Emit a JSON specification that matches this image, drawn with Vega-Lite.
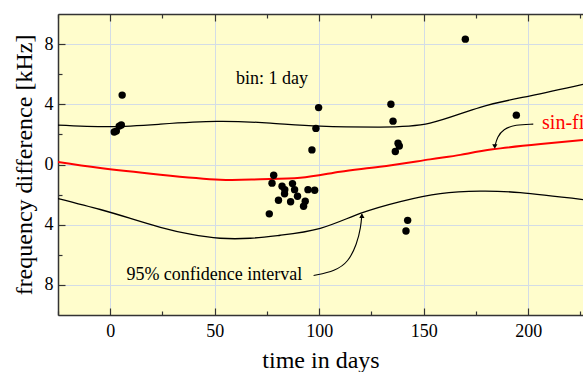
{
  "$schema": "https://vega.github.io/schema/vega-lite/v6.json",
  "width": 525,
  "height": 301,
  "autosize": {"type": "none"},
  "padding": {"left": 58, "top": 14, "right": 0, "bottom": 57},
  "background": "white",
  "config": {
    "view": {"fill": "#FFFDCC", "stroke": null},
    "font": "Liberation Serif",
    "axis": {
      "labelFont": "Liberation Serif",
      "labelFontSize": 18,
      "labelColor": "black",
      "titleFont": "Liberation Serif",
      "titleFontSize": 24,
      "titleFontWeight": "normal",
      "titleColor": "black",
      "domainColor": "#333333",
      "domainWidth": 1.5,
      "tickColor": "#333333",
      "tickWidth": 1.2,
      "gridColor": "#D3DCE6",
      "gridWidth": 1
    }
  },
  "datasets": {
    "points": [
      {"t": 1.9, "f": 2.16}, {"t": 2.9, "f": 2.22}, {"t": 4.3, "f": 2.55}, {"t": 5.3, "f": 2.62}, {"t": 5.7, "f": 4.61},
      {"t": 78.2, "f": -0.71}, {"t": 77.4, "f": -1.24}, {"t": 82.2, "f": -1.45}, {"t": 83.5, "f": -1.67}, {"t": 87.2, "f": -1.27},
      {"t": 88.2, "f": -1.67}, {"t": 83.4, "f": -1.95}, {"t": 89.6, "f": -2.11}, {"t": 80.5, "f": -2.37}, {"t": 86.3, "f": -2.48},
      {"t": 93.3, "f": -2.44}, {"t": 92.5, "f": -2.77}, {"t": 94.6, "f": -1.67}, {"t": 97.8, "f": -1.71}, {"t": 76.1, "f": -3.28},
      {"t": 99.7, "f": 3.78}, {"t": 98.4, "f": 2.40}, {"t": 96.5, "f": 0.97},
      {"t": 134.3, "f": 4.0}, {"t": 135.3, "f": 2.88}, {"t": 137.7, "f": 1.41}, {"t": 138.3, "f": 1.23}, {"t": 136.4, "f": 0.86},
      {"t": 142.3, "f": -3.71}, {"t": 141.5, "f": -4.42},
      {"t": 169.9, "f": 8.33}, {"t": 194.3, "f": 3.28}
    ],
    "curves": [
      {"s": "upper", "t": -25, "f": 2.62}, {"s": "upper", "t": 0, "f": 2.52}, {"s": "upper", "t": 24, "f": 2.68},
      {"s": "upper", "t": 51, "f": 2.86}, {"s": "upper", "t": 76.6, "f": 2.75}, {"s": "upper", "t": 100.5, "f": 2.55},
      {"s": "upper", "t": 129, "f": 2.49}, {"s": "upper", "t": 153, "f": 2.75}, {"s": "upper", "t": 177, "f": 3.8},
      {"s": "upper", "t": 201, "f": 4.56}, {"s": "upper", "t": 226.2, "f": 5.32},
      {"s": "lower", "t": -25, "f": -2.26}, {"s": "lower", "t": -4.8, "f": -2.99}, {"s": "lower", "t": 9.6, "f": -3.58},
      {"s": "lower", "t": 24, "f": -4.17}, {"s": "lower", "t": 38.3, "f": -4.63}, {"s": "lower", "t": 52.6, "f": -4.9},
      {"s": "lower", "t": 67, "f": -4.9}, {"s": "lower", "t": 81.3, "f": -4.7}, {"s": "lower", "t": 100.5, "f": -4.24},
      {"s": "lower", "t": 119.6, "f": -3.25}, {"s": "lower", "t": 138.8, "f": -2.46}, {"s": "lower", "t": 157.9, "f": -1.93},
      {"s": "lower", "t": 177, "f": -1.77}, {"s": "lower", "t": 196.2, "f": -1.87}, {"s": "lower", "t": 226.2, "f": -2.33},
      {"s": "fit", "t": -25, "f": 0.16}, {"s": "fit", "t": -4.8, "f": -0.24}, {"s": "fit", "t": 24, "f": -0.68},
      {"s": "fit", "t": 52.6, "f": -1.01}, {"s": "fit", "t": 71.8, "f": -0.98}, {"s": "fit", "t": 90.9, "f": -0.88},
      {"s": "fit", "t": 110, "f": -0.48}, {"s": "fit", "t": 129, "f": -0.15}, {"s": "fit", "t": 153, "f": 0.34},
      {"s": "fit", "t": 167.5, "f": 0.64}, {"s": "fit", "t": 183, "f": 1.01}, {"s": "fit", "t": 206, "f": 1.36},
      {"s": "fit", "t": 226.2, "f": 1.63}
    ],
    "notes": [
      {"label": "bin: 1 day", "t": 77.4, "f": 5.7, "kind": "plain"},
      {"label": "95% confidence interval", "t": 49.8, "f": -7.34, "kind": "plain"},
      {"label": "sin-fit", "t": 206.6, "f": 2.73, "kind": "fit"}
    ],
    "arrows": [
      {"a": "ci", "o": 1, "t": 97.3, "f": -7.38}, {"a": "ci", "o": 2, "t": 107.7, "f": -7.07},
      {"a": "ci", "o": 3, "t": 113.9, "f": -6.48}, {"a": "ci", "o": 4, "t": 118.0, "f": -5.29},
      {"a": "ci", "o": 5, "t": 119.9, "f": -4.17}, {"a": "ci", "o": 6, "t": 120.4, "f": -3.3},
      {"a": "fit", "o": 1, "t": 202.4, "f": 2.68}, {"a": "fit", "o": 2, "t": 193.8, "f": 2.65},
      {"a": "fit", "o": 3, "t": 188.0, "f": 2.35}, {"a": "fit", "o": 4, "t": 185.2, "f": 1.83},
      {"a": "fit", "o": 5, "t": 184.0, "f": 1.2}
    ],
    "heads": [
      {"dir": "up", "t": 120.4, "f": -3.4},
      {"dir": "down", "t": 184.0, "f": 1.2}
    ]
  },
  "resolve": {"axis": {"x": "independent", "y": "independent"}},
  "layer": [
    {
      "data": {"name": "curves"},
      "transform": [{"filter": "datum.s !== 'fit'"}],
      "mark": {"type": "line", "color": "black", "strokeWidth": 1.3, "interpolate": "natural", "clip": true},
      "encoding": {
        "x": {
          "field": "t", "type": "quantitative",
          "scale": {"domain": [-25, 226.2], "nice": false, "zero": false},
          "axis": {
            "title": "time in days",
            "titleFont": "Liberation Serif",
            "labelFont": "Liberation Serif",
            "titlePadding": 8,
            "values": [-25, 0, 25, 50, 75, 100, 125, 150, 175, 200, 225],
            "labelExpr": "datum.value % 50 === 0 ? datum.label : ''",
            "tickSize": {"condition": {"test": "datum.value % 50 === 0", "value": -7}, "value": -4},
            "labelPadding": 14,
            "gridOpacity": {"condition": {"test": "datum.value % 50 === 0", "value": 1}, "value": 0},
            "grid": true
          }
        },
        "y": {
          "field": "f", "type": "quantitative",
          "scale": {"domain": [-10, 10], "nice": false},
          "axis": {
            "title": "frequency difference [kHz]",
            "titleFont": "Liberation Serif",
            "labelFont": "Liberation Serif",
            "titlePadding": 8,
            "values": [-8, -6, -4, -2, 0, 2, 4, 6, 8],
            "labelExpr": "datum.value % 4 === 0 ? format(abs(datum.value), 'd') : ''",
            "tickSize": {"condition": {"test": "datum.value % 4 === 0", "value": -7}, "value": -4},
            "labelPadding": 12,
            "gridOpacity": {"condition": {"test": "datum.value % 4 === 0", "value": 1}, "value": 0},
            "grid": true
          }
        },
        "detail": {"field": "s"}
      }
    },
    {
      "data": {"name": "curves"},
      "transform": [{"filter": "datum.s === 'fit'"}],
      "mark": {"type": "line", "color": "#FF0000", "strokeWidth": 2, "interpolate": "natural", "clip": true},
      "encoding": {
        "x": {"field": "t", "type": "quantitative", "axis": null},
        "y": {"field": "f", "type": "quantitative", "axis": null}
      }
    },
    {
      "data": {"name": "points"},
      "mark": {"type": "circle", "color": "black", "opacity": 1, "size": 55},
      "encoding": {
        "x": {
          "field": "t", "type": "quantitative",
          "axis": {
            "orient": "top", "title": null, "labels": false, "grid": false,
            "values": [-25, 0, 25, 50, 75, 100, 125, 150, 175, 200, 225],
            "tickSize": {"condition": {"test": "datum.value % 50 === 0", "value": -7}, "value": -4}
          }
        },
        "y": {"field": "f", "type": "quantitative", "axis": null}
      }
    },
    {
      "data": {"name": "arrows"},
      "mark": {"type": "line", "color": "black", "strokeWidth": 1.1, "interpolate": "basis"},
      "encoding": {
        "x": {"field": "t", "type": "quantitative", "axis": null},
        "y": {"field": "f", "type": "quantitative", "axis": null},
        "detail": {"field": "a"},
        "order": {"field": "o"}
      }
    },
    {
      "data": {"name": "heads"},
      "mark": {"type": "point", "filled": true, "color": "black", "opacity": 1, "size": 28},
      "encoding": {
        "x": {"field": "t", "type": "quantitative", "axis": null},
        "y": {"field": "f", "type": "quantitative", "axis": null},
        "shape": {"field": "dir", "type": "nominal", "scale": {"domain": ["up", "down"], "range": ["triangle-up", "triangle-down"]}, "legend": null}
      }
    },
    {
      "data": {"name": "notes"},
      "transform": [{"filter": "datum.kind === 'plain'"}],
      "mark": {"type": "text", "font": "Liberation Serif", "fontSize": 18, "color": "black", "align": "center", "baseline": "middle"},
      "encoding": {
        "x": {"field": "t", "type": "quantitative", "axis": null},
        "y": {"field": "f", "type": "quantitative", "axis": null},
        "text": {"field": "label"}
      }
    },
    {
      "data": {"name": "notes"},
      "transform": [{"filter": "datum.kind === 'fit'"}],
      "mark": {"type": "text", "font": "Liberation Serif", "fontSize": 20, "color": "#FF0000", "align": "left", "baseline": "middle"},
      "encoding": {
        "x": {"field": "t", "type": "quantitative", "axis": null},
        "y": {"field": "f", "type": "quantitative", "axis": null},
        "text": {"field": "label"}
      }
    }
  ]
}
